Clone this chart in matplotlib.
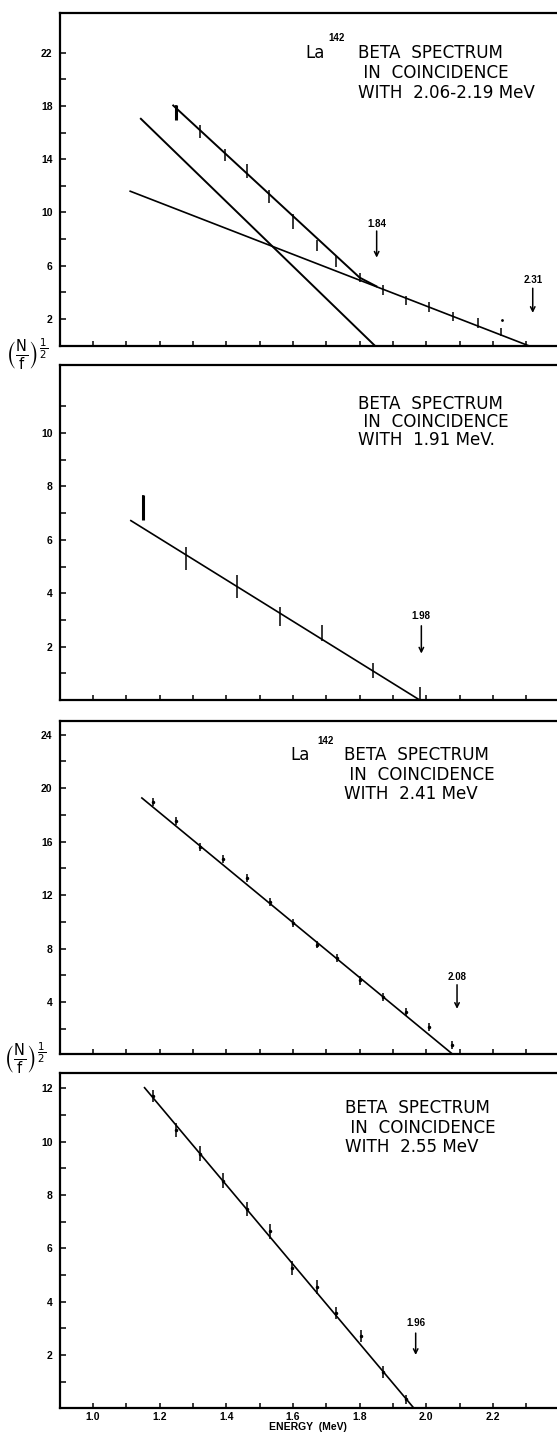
import numpy as np
import matplotlib
matplotlib.use("Agg")
import matplotlib.pyplot as plt

# panel 1: La142 beta spectrum in coincidence with 2.06-2.19 MeV
p1_energy = [1.248, 1.322, 1.395, 1.461, 1.529, 1.600, 1.671, 1.730, 1.801, 1.869, 1.938, 2.007, 2.081, 2.154, 2.223]
p1_value = [17.48, 16.1, 14.3, 13.1, 11.2, 9.3, 7.5, 6.3, 5.1, 4.2, 3.4, 2.9, 2.2, 1.7, 1.05]
p1_err = [0.55, 0.5, 0.47, 0.5, 0.48, 0.55, 0.4, 0.4, 0.35, 0.37, 0.35, 0.37, 0.33, 0.37, 0.3]
p1_total_e = [1.241, 1.80, 1.85]
p1_total_v = [18.03, 5.1, 4.45]
p1_steep_e = [1.144, 1.845]
p1_steep_v = [17.03, 0.0]
p1_shallow_e = [1.112, 2.305]
p1_shallow_v = [11.59, 0.0]

# panel 2: coincidence with 1.91 MeV
p2_energy = [1.149, 1.279, 1.433, 1.561, 1.688, 1.840, 1.982]
p2_value = [7.2, 5.3, 4.25, 3.13, 2.51, 1.1, 0.25]
p2_err = [0.47, 0.44, 0.42, 0.36, 0.31, 0.27, 0.25]
p2_line_e = [1.114, 1.98]
p2_line_v = [6.72, 0.0]

# panel 3: coincidence with 2.41 MeV
p3_energy = [1.181, 1.250, 1.321, 1.391, 1.461, 1.531, 1.600, 1.671, 1.731, 1.800, 1.870, 1.938, 2.009, 2.077]
p3_value = [18.94, 17.52, 15.61, 14.71, 13.29, 11.5, 9.93, 8.31, 7.31, 5.62, 4.4, 3.25, 2.16, 0.81]
p3_err = [0.3, 0.3, 0.3, 0.3, 0.3, 0.3, 0.3, 0.28, 0.3, 0.3, 0.3, 0.3, 0.3, 0.3]
p3_line_e = [1.147, 2.084]
p3_line_v = [19.27, 0.0]

# panel 4: coincidence with 2.55 MeV
p4_energy = [1.179, 1.248, 1.320, 1.389, 1.461, 1.530, 1.598, 1.671, 1.730, 1.805, 1.871, 1.938]
p4_value = [11.71, 10.44, 9.54, 8.53, 7.47, 6.63, 5.26, 4.55, 3.57, 2.7, 1.35, 0.33]
p4_err = [0.24, 0.26, 0.28, 0.28, 0.27, 0.28, 0.26, 0.27, 0.23, 0.22, 0.22, 0.17]
p4_line_e = [1.155, 1.963]
p4_line_v = [12.02, 0.0]

W, H = 557, 1433
fig = plt.figure(figsize=(W / 100, H / 100), dpi=100)

def px_axes(top, bottom):
    return fig.add_axes([59.5 / W, (H - bottom) / H, (W - 59.5) / W, (bottom - top) / H])

ax1 = px_axes(12.7, 345.5)
ax2 = px_axes(365, 700)
ax3 = px_axes(720.7, 1054.3)
ax4 = px_axes(1073.3, 1408.3)

xmax = 0.9 + (W - 59.5) / 333.5
xmaj = [1.0, 1.2, 1.4, 1.6, 1.8, 2.0, 2.2]
xmin = [1.1, 1.3, 1.5, 1.7, 1.9, 2.1, 2.3]

tickfont = dict(family="Liberation Sans", weight="bold", size=7.5)
textfont = dict(family="DejaVu Sans", size=12.1)
smallfont = dict(family="Liberation Sans", weight="bold", size=7)

def setup(ax, ylim, ymaj, ymin, xlabels=False):
    ax.set_xlim(0.9, xmax)
    ax.set_ylim(*ylim)
    ax.spines["right"].set_visible(False)
    for s in ["left", "bottom", "top"]:
        ax.spines[s].set_linewidth(1.6)
    ax.set_xticks(xmaj)
    ax.set_xticks(xmin, minor=True)
    ax.set_yticks(ymaj)
    ax.set_yticks(ymin, minor=True)
    ax.tick_params(axis="both", which="both", direction="in", width=1.1)
    ax.tick_params(axis="y", which="both", length=4.5, pad=5)
    ax.tick_params(axis="x", which="both", length=3.5, pad=3)
    ax.set_yticklabels([str(v) for v in ymaj], fontdict=tickfont)
    if xlabels:
        ax.set_xticklabels(["%.1f" % v for v in xmaj], fontdict=tickfont)
    else:
        ax.set_xticklabels([])

def bars(ax, e, v, err, dots=False, first_thick=False):
    ax.errorbar(e, v, yerr=err, fmt="." if dots else "none", color="black",
                ecolor="black", elinewidth=1.1, capsize=0, markersize=3)
    if first_thick:
        ax.vlines(e[0], v[0] - err[0], v[0] + err[0], color="black", lw=2.2)

def arrow(ax, x, label, ytext, ytop, ybot):
    ax.text(x, ytext, label, ha="center", va="center", **smallfont)
    ax.annotate("", xy=(x, ybot), xytext=(x, ytop),
                arrowprops=dict(arrowstyle="->", lw=1.1, color="black",
                                mutation_scale=8, shrinkA=0, shrinkB=0))

def title(ax, x, rows, ys):
    for r, y in zip(rows, ys):
        ax.text(x, y, r, ha="left", va="center", **textfont)

# panel 1
setup(ax1, (0, 25), [2, 6, 10, 14, 18, 22], [4, 8, 12, 16, 20])
ax1.plot(p1_total_e, p1_total_v, color="black", lw=1.4)
ax1.plot(p1_steep_e, p1_steep_v, color="black", lw=1.4)
ax1.plot(p1_shallow_e, p1_shallow_v, color="black", lw=1.2)
bars(ax1, p1_energy, p1_value, p1_err, first_thick=True)
ax1.plot([2.227], [1.9], "k.", markersize=2)
arrow(ax1, 1.851, "1.84", 9.15, 8.6, 6.6)
arrow(ax1, 2.319, "2.31", 4.94, 4.3, 2.45)
ax1.text(1.638, 22.0, "La", ha="left", va="center", family="DejaVu Sans", size=12)
ax1.text(1.707, 23.1, "142", ha="left", va="center", **smallfont)
title(ax1, 1.794, ["BETA  SPECTRUM", " IN  COINCIDENCE", "WITH  2.06-2.19 MeV"], [22.0, 20.5, 19.0])

# panel 2
setup(ax2, (0, 12.55), [2, 4, 6, 8, 10], [1, 3, 5, 7, 9, 11])
ax2.plot(p2_line_e, p2_line_v, color="black", lw=1.2)
bars(ax2, p2_energy, p2_value, p2_err, first_thick=True)
arrow(ax2, 1.985, "1.98", 3.14, 2.78, 1.74)
title(ax2, 1.796, ["BETA  SPECTRUM", " IN  COINCIDENCE", "WITH  1.91 MeV."], [11.1, 10.41, 9.73])

# panel 3
setup(ax3, (0.1, 25.05), [4, 8, 12, 16, 20, 24], [2, 6, 10, 14, 18, 22])
ax3.plot(p3_line_e, p3_line_v, color="black", lw=1.2)
bars(ax3, p3_energy, p3_value, p3_err, dots=True)
arrow(ax3, 2.092, "2.08", 5.9, 5.3, 3.5)
ax3.text(1.593, 22.5, "La", ha="left", va="center", family="DejaVu Sans", size=12)
ax3.text(1.672, 23.55, "142", ha="left", va="center", **smallfont)
title(ax3, 1.754, ["BETA  SPECTRUM", " IN  COINCIDENCE", "WITH  2.41 MeV"], [22.5, 21.0, 19.6])

# panel 4
setup(ax4, (0, 12.56), [2, 4, 6, 8, 10, 12], [1, 3, 5, 7, 9, 11], xlabels=True)
ax4.plot(p4_line_e, p4_line_v, color="black", lw=1.2)
bars(ax4, p4_energy, p4_value, p4_err, dots=True)
arrow(ax4, 1.968, "1.96", 3.2, 2.82, 2.0)
title(ax4, 1.757, ["BETA  SPECTRUM", " IN  COINCIDENCE", "WITH  2.55 MeV"], [11.25, 10.5, 9.79])
ax4.set_xlabel("ENERGY  (MeV)", family="Liberation Sans", weight="bold", size=7.5, labelpad=0)

ylab = r"$\left(\frac{\mathrm{N}}{\mathrm{f}}\right)^{\frac{1}{2}}$"
fig.text(27 / W, 1 - 354 / H, ylab, ha="center", va="center", size=15)
fig.text(25 / W, 1 - 1058 / H, ylab, ha="center", va="center", size=15)

fig.savefig("out.png", dpi=100)
